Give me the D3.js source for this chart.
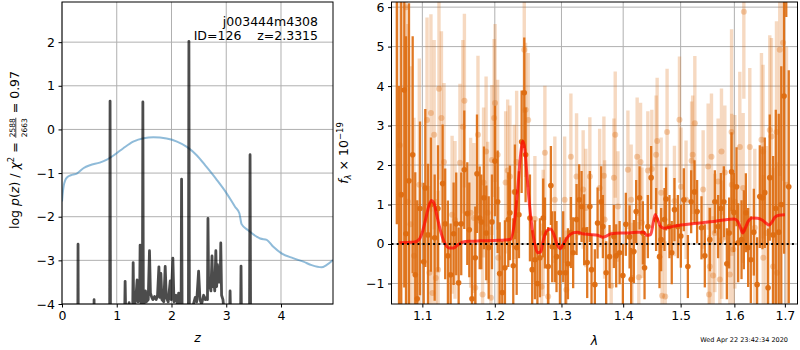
<!DOCTYPE html>
<html>
<head>
<meta charset="utf-8">
<script src="https://cdn.jsdelivr.net/npm/d3@7"></script>
<style>
  body { margin: 0; background: #fff; }
  svg { font-family: "DejaVu Sans", sans-serif; }
</style>
</head>
<body>
<svg id="fig" width="800" height="350"></svg>
<script>
// ---------------- data ----------------
// redshift probability: [z, log p(z)]
const pzCurve = [
  [0.00,-6],[0.285,-6],[0.293,-2.63],[0.301,-6],[0.578,-6],[0.586,-3.9],[0.594,-6],
  [0.868,-6],[0.878,0.65],[0.888,-6],[1.12,-6],[1.145,-4.2],[1.153,-3.48],[1.162,-4.1],
  [1.20,-4.3],[1.226,-3.97],[1.25,-4.2],[1.292,-4.1],[1.300,-3.05],[1.308,-3.9],[1.33,-4.0],
  [1.350,-3.85],[1.372,-3.45],[1.39,-3.95],[1.418,-3.8],[1.427,-2.65],[1.436,-3.9],
  [1.468,-4.2],[1.477,0.63],[1.486,-4.1],[1.51,-3.9],[1.525,-3.7],[1.54,-3.95],
  [1.575,-3.9],[1.598,-2.78],[1.615,-3.75],[1.64,-3.85],[1.66,-3.9],[1.69,-3.83],[1.72,-3.9],
  [1.745,-3.8],[1.77,-3.15],[1.785,-3.85],[1.806,-3.3],[1.825,-3.9],[1.86,-3.95],[1.885,-3.14],
  [1.905,-3.85],[1.94,-3.95],[1.977,-3.47],[1.995,-3.9],[2.025,-2.95],[2.045,-3.95],
  [2.07,-3.9],[2.086,-3.8],[2.11,-4.05],[2.13,-3.75],[2.155,-4.1],[2.175,-4.2],[2.184,-1.14],
  [2.194,-4.2],[2.26,-4.3],[2.309,-4.3],[2.318,2.02],[2.327,-4.2],[2.38,-4.1],[2.434,-3.85],
  [2.46,-3.95],[2.495,-3.25],[2.52,-3.9],[2.55,-4.0],[2.587,-3.8],[2.62,-3.9],[2.645,-3.85],
  [2.657,-3.9],[2.666,-2.04],[2.678,-3.6],[2.696,-3.55],[2.72,-3.7],[2.74,-2.9],[2.755,-3.6],
  [2.77,-3.4],[2.79,-3.7],[2.81,-2.78],[2.825,-3.6],[2.84,-3.1],[2.86,-3.5],[2.88,-3.15],
  [2.89,-3.5],[2.90,-2.6],[2.915,-3.8],[2.94,-3.9],[2.97,-4.3],[3.06,-4.3],[3.07,-3.7],
  [3.08,-4.3],[3.262,-4.3],[3.27,-3.13],[3.278,-4.3],[3.425,-4.3],[3.435,-0.58],[3.445,-4.3],
  [3.5,-6],[4.95,-6]
];
// scaled chi-square curve: [z, value]
const chiCurve = [
  [0.00,-1.65],[0.01,-1.50],[0.03,-1.30],[0.06,-1.16],[0.10,-1.09],[0.16,-1.05],[0.27,-1.01],
  [0.39,-0.89],[0.51,-0.82],[0.69,-0.76],[0.82,-0.69],[0.97,-0.57],[1.12,-0.43],[1.30,-0.28],
  [1.49,-0.20],[1.67,-0.18],[1.91,-0.21],[2.10,-0.28],[2.28,-0.40],[2.46,-0.59],[2.64,-0.86],
  [2.83,-1.16],[3.01,-1.47],[3.16,-1.77],[3.24,-1.92],[3.28,-2.17],[3.40,-2.31],[3.56,-2.46],
  [3.62,-2.50],[3.74,-2.53],[3.86,-2.69],[4.01,-2.84],[4.22,-2.95],[4.41,-3.03],[4.56,-3.11],
  [4.74,-3.16],[4.83,-3.11],[4.95,-2.99]
];
// spectrum, second grism: [wavelength, flux, error]
const specFaint = [
  [1.0708,2.5,5.5],[1.0786,6.0,5.0],[1.0810,1.07,4.5],[1.0844,0.5,4.0],[1.0890,-0.3,3.5],
  [1.0960,1.5,3.2],[1.1062,3.14,2.6],[1.1094,-0.73,2.2],[1.1114,3.32,2.5],[1.1135,-1.24,2.2],
  [1.1157,2.77,2.4],[1.1180,-0.86,2.0],[1.1210,-0.65,2.0],[1.1222,3.93,2.3],[1.1255,3.19,2.2],
  [1.1290,2.08,2.0],[1.1400,0.74,2.0],[1.1440,0.61,2.0],[1.1508,2.06,2.0],[1.1548,2.97,2.2],
  [1.1570,3.63,2.2],[1.1657,0.79,1.9],[1.1703,0.66,1.9],[1.1722,-1.11,1.8],[1.1760,2.77,2.0],
  [1.1825,-1.28,1.8],[1.1839,1.56,1.9],[1.1875,2.34,1.9],[1.1898,0.79,1.8],[1.1944,-1.36,1.8],
  [1.1958,2.13,1.9],[1.1990,3.19,2.0],[1.2004,3.57,2.0],[1.2041,2.26,1.9],[1.2050,-0.35,1.8],
  [1.2157,1.56,1.8],[1.2187,1.86,1.8],[1.2220,1.71,1.8],[1.2284,1.32,1.7],[1.2319,2.08,1.8],
  [1.2432,4.92,1.6],[1.2452,3.40,1.7],[1.2491,3.14,1.7],[1.2592,0.63,1.6],[1.2693,-1.08,1.6],
  [1.2718,0.28,1.6],[1.2744,2.31,1.7],[1.2794,-1.33,1.6],[1.2897,1.12,1.6],[1.3050,1.12,1.6],
  [1.3076,-1.16,1.5],[1.3148,2.21,1.6],[1.3238,1.71,1.6],[1.3343,1.38,1.5],[1.3386,0.91,1.5],
  [1.3451,1.71,1.5],[1.3610,1.42,1.5],[1.3680,1.73,1.5],[1.3691,0.62,1.5],[1.3800,-1.06,1.4],
  [1.3845,1.68,1.5],[1.3867,2.77,1.6],[1.3912,0.95,1.4],[1.4080,1.88,1.5],[1.4135,1.12,1.4],
  [1.4150,-0.86,1.4],[1.4237,2.21,1.5],[1.4265,-0.84,1.4],[1.4295,2.08,1.5],[1.4320,0.54,1.4],
  [1.4421,1.86,1.5],[1.4490,1.90,1.5],[1.4565,2.26,1.5],[1.4583,2.61,1.6],[1.4653,1.30,1.4],
  [1.4670,-1.31,1.4],[1.4725,-1.33,1.4],[1.4758,2.84,1.6],[1.4889,1.09,1.4],[1.4979,3.15,1.6],
  [1.5007,1.45,1.5],[1.5098,1.12,1.5],[1.5199,2.11,1.5],[1.5218,2.26,1.5],[1.5258,3.06,1.7],
  [1.5411,1.38,1.5],[1.5504,1.96,1.6],[1.5520,-1.28,1.5],[1.5535,-0.57,1.5],[1.5566,2.21,1.6],
  [1.5597,-0.80,1.5],[1.5629,0.28,1.5],[1.5691,1.58,1.6],[1.5723,-0.90,1.5],[1.5754,2.34,1.6],
  [1.5760,0.11,1.5],[1.5818,1.81,1.7],[1.5913,-0.77,1.7],[1.5946,2.84,2.6],[1.5950,1.50,1.8],
  [1.5977,-0.14,1.8],[1.6009,1.07,2.2],[1.6105,2.46,1.9],[1.6170,1.42,1.9],[1.6183,5.88,2.2],
  [1.6299,2.46,2.0],[1.6397,0.41,2.0],[1.6529,2.64,2.2],[1.6561,2.34,2.2],[1.6565,-0.35,2.1],
  [1.6629,0.28,2.2],[1.6695,2.89,2.4],[1.6729,2.72,2.5],[1.6762,-0.57,2.5],[1.6830,2.84,2.8],
  [1.6842,-0.73,2.8],[1.6896,4.92,3.2],[1.6964,5.10,3.5],[1.7033,1.50,3.5]
];
// spectrum, first grism: [wavelength, flux, error]
const specMain = [
  [1.0668,7.5,7.0],[1.0696,-2.5,6.5],[1.0725,1.25,5.5],[1.0764,3.90,5.0],[1.0786,0.26,5.0],
  [1.0825,1.60,4.5],[1.0873,2.26,3.0],[1.0907,-0.78,2.6],[1.0933,-1.39,2.5],[1.0969,0.90,2.2],
  [1.1018,-0.45,2.0],[1.1039,1.42,2.0],[1.1075,0.23,1.8],[1.1114,1.00,1.7],[1.1164,0.16,1.6],
  [1.1208,0.90,1.6],[1.1271,1.53,1.5],[1.1306,0.51,1.4],[1.1343,-0.30,1.4],[1.1380,-0.78,1.3],
  [1.1421,0.26,1.3],[1.1457,0.51,1.3],[1.1490,-0.98,1.4],[1.1526,0.51,1.3],[1.1568,1.88,1.5],
  [1.1610,0.77,1.3],[1.1638,0.36,1.2],[1.1675,-1.39,1.4],[1.1722,-0.35,1.3],[1.1746,1.78,1.5],
  [1.1784,0.66,1.3],[1.1807,0.56,1.2],[1.1845,1.17,1.3],[1.1878,0.28,1.2],[1.1912,-0.09,1.3],
  [1.1959,0.56,1.2],[1.2002,2.10,1.4],[1.2041,1.07,1.3],[1.2070,-0.75,1.3],[1.2108,-1.23,1.3],
  [1.2147,-0.60,1.2],[1.2196,0.62,1.2],[1.2220,0.79,1.2],[1.2269,-0.55,1.2],[1.2294,1.32,1.2],
  [1.2319,-0.09,1.2],[1.2353,0.74,1.1],[1.2393,2.59,1.3],[1.2432,3.83,1.4],[1.2452,2.26,1.2],
  [1.2517,0.66,1.1],[1.2551,-0.65,1.0],[1.2592,-0.40,1.0],[1.2630,-1.00,1.0],[1.2668,-0.35,1.0],
  [1.2718,0.66,1.0],[1.2744,0.28,0.9],[1.2794,-0.57,1.0],[1.2836,1.48,1.0],[1.2856,-0.07,0.9],
  [1.2897,-0.07,0.9],[1.2923,-0.32,0.9],[1.2976,-0.73,0.9],[1.3027,-0.07,0.9],[1.3065,-0.73,0.9],
  [1.3101,-0.50,0.9],[1.3148,0.29,0.9],[1.3184,-0.22,0.9],[1.3238,0.62,0.9],[1.3280,1.12,0.9],
  [1.3318,0.95,0.9],[1.3359,0.36,0.9],[1.3408,-0.47,0.9],[1.3451,0.95,0.9],[1.3478,-0.65,0.9],
  [1.3532,-1.03,0.9],[1.3576,0.53,0.9],[1.3635,1.07,0.9],[1.3663,0.44,0.8],[1.3717,-0.73,0.8],
  [1.3773,-0.32,0.8],[1.3845,0.19,0.8],[1.3883,-0.30,0.8],[1.3940,-0.22,0.8],[1.3995,-0.80,0.8],
  [1.4045,0.50,0.8],[1.4108,0.18,0.8],[1.4135,-0.90,0.8],[1.4181,-0.19,0.8],[1.4220,0.82,0.8],
  [1.4278,1.17,0.8],[1.4335,0.28,0.8],[1.4364,-0.60,0.8],[1.4421,0.44,0.8],[1.4478,1.68,0.8],
  [1.4565,0.62,0.8],[1.4624,-0.32,0.8],[1.4653,0.11,0.8],[1.4712,0.62,0.8],[1.4740,1.14,0.8],
  [1.4800,0.44,0.8],[1.4841,-0.22,0.8],[1.4889,0.87,0.8],[1.4950,0.44,0.8],[1.5004,0.20,0.8],
  [1.5058,1.12,0.8],[1.5131,-0.57,0.8],[1.5191,1.07,0.8],[1.5252,1.32,0.8],[1.5300,0.82,0.8],
  [1.5381,0.41,0.8],[1.5442,-0.30,0.8],[1.5535,0.11,0.8],[1.5629,1.07,0.8],[1.5691,0.44,0.8],
  [1.5742,0.90,0.9],[1.5799,1.07,0.9],[1.5856,-0.50,0.9],[1.5900,0.28,0.9],[1.5946,1.83,1.0],
  [1.5990,0.80,1.0],[1.6042,1.45,1.0],[1.6073,0.03,1.0],[1.6138,0.11,1.0],[1.6183,0.36,1.0],
  [1.6222,0.79,1.0],[1.6267,-0.09,1.0],[1.6319,-0.40,1.1],[1.6378,0.30,1.1],[1.6443,-1.03,1.2],
  [1.6496,1.20,1.3],[1.6549,1.17,1.3],[1.6595,1.30,1.4],[1.6661,-1.11,1.5],[1.6695,1.68,1.6],
  [1.6762,0.23,2.0],[1.6816,0.90,2.5],[1.6876,0.30,3.0],[1.6927,1.00,3.5],[1.6984,3.75,4.0],
  [1.7029,8.00,2.25],[1.7080,1.45,2.95]
];
// best-fit template: [wavelength, flux]
const modelSpec = [
  [1.070,0.03],[1.080,0.04],[1.090,0.05],[1.096,0.12],[1.100,0.30],[1.104,0.60],[1.108,0.92],
  [1.112,1.10],[1.115,1.05],[1.119,0.75],[1.124,0.35],[1.130,0.02],[1.136,-0.10],[1.142,-0.10],
  [1.148,-0.02],[1.155,0.05],[1.165,0.07],[1.180,0.08],[1.200,0.09],[1.215,0.10],[1.223,0.12],
  [1.229,0.60],[1.234,1.50],[1.238,2.30],[1.241,2.60],[1.244,2.40],[1.247,1.80],[1.251,1.00],
  [1.255,0.40],[1.259,0.00],[1.263,-0.22],[1.268,-0.20],[1.272,0.10],[1.277,0.33],[1.283,0.38],
  [1.288,0.25],[1.293,0.00],[1.298,-0.12],[1.303,0.00],[1.310,0.18],[1.318,0.28],[1.325,0.30],
  [1.333,0.26],[1.345,0.24],[1.358,0.22],[1.366,0.17],[1.372,0.20],[1.380,0.26],[1.395,0.28],
  [1.410,0.28],[1.425,0.30],[1.435,0.30],[1.440,0.22],[1.447,0.24],[1.451,0.50],[1.455,0.75],
  [1.459,0.62],[1.464,0.45],[1.470,0.40],[1.485,0.44],[1.500,0.48],[1.520,0.51],[1.540,0.54],
  [1.560,0.57],[1.580,0.61],[1.600,0.63],[1.606,0.58],[1.612,0.40],[1.616,0.28],[1.621,0.40],
  [1.627,0.58],[1.635,0.66],[1.645,0.65],[1.655,0.60],[1.663,0.52],[1.668,0.48],[1.674,0.56],
  [1.680,0.68],[1.688,0.73],[1.700,0.74]
];
const zTicks = [0, 1, 2, 3, 4];
const pzTicks = [-4, -3, -2, -1, 0, 1, 2];
const waveTicks = [1.1, 1.2, 1.3, 1.4, 1.5, 1.6, 1.7];
const fluxTicks = [-1, 0, 1, 2, 3, 4, 5, 6];
const objName = "j003444m4308";
const objInfo = "ID=126    z=2.3315";
const stamp = "Wed Apr 22 23:42:34 2020";

// ---------------- layout ----------------
const svg = d3.select("#fig");
const FS = 12.5;
const gridColor = "#b0b0b0";
const minus = s => String(s).replace("-", "\u2212");

const L = {x0: 62, x1: 333, y0: 2, y1: 304};
const R = {x0: 391.5, x1: 797.5, y0: 2, y1: 304};

const xz = d3.scaleLinear().domain([0, 4.95]).range([L.x0, L.x1]);
const yp = d3.scaleLinear().domain([-4, 2.92]).range([L.y1, L.y0]);
const xw = d3.scaleLog().domain([1.06, 1.726]).range([R.x0, R.x1]);
const yf = d3.scaleLinear().domain([-1.52, 6.13]).range([R.y1, R.y0]);

const defs = svg.append("defs");
function clip(id, b) {
  defs.append("clipPath").attr("id", id).append("rect")
    .attr("x", b.x0).attr("y", b.y0).attr("width", b.x1 - b.x0).attr("height", b.y1 - b.y0);
}
clip("clipL", L); clip("clipR", R);

function grid(b, xs, xt, ys, yt) {
  const g = svg.append("g").attr("stroke", gridColor).attr("stroke-width", 1);
  xt.forEach(t => g.append("line").attr("x1", xs(t)).attr("x2", xs(t)).attr("y1", b.y0).attr("y2", b.y1));
  yt.forEach(t => g.append("line").attr("y1", ys(t)).attr("y2", ys(t)).attr("x1", b.x0).attr("x2", b.x1));
}
grid(L, xz, zTicks, yp, pzTicks);
grid(R, xw, waveTicks, yf, fluxTicks);

// ---------------- left panel ----------------
const gl = svg.append("g").attr("clip-path", "url(#clipL)");
gl.append("path").datum(chiCurve)
  .attr("d", d3.line().x(d => xz(d[0])).y(d => yp(d[1])).curve(d3.curveMonotoneX))
  .attr("fill", "none").attr("stroke", "#1f77b4").attr("stroke-opacity", 0.5).attr("stroke-width", 2);
gl.append("path").datum(pzCurve).attr("d", d3.line().x(d => xz(d[0])).y(d => yp(d[1])))
  .attr("fill", "none").attr("stroke", "#000").attr("stroke-opacity", 0.7)
  .attr("stroke-width", 2.8).attr("stroke-linejoin", "round");

svg.append("text").attr("x", 318).attr("y", 26).attr("text-anchor", "end")
  .attr("font-size", FS).text(objName);
svg.append("text").attr("x", 318).attr("y", 40).attr("text-anchor", "end")
  .attr("font-size", FS).style("white-space", "pre").text(objInfo);

// ---------------- right panel ----------------
const gr = svg.append("g").attr("clip-path", "url(#clipR)");
const orange = "#dd6c10";
function errorbars(data, width, barOp, dotOp, r) {
  const g = gr.append("g");
  g.selectAll("line").data(data).join("line")
    .attr("x1", d => xw(d[0])).attr("x2", d => xw(d[0]))
    .attr("y1", d => yf(d[1] - d[2])).attr("y2", d => yf(d[1] + d[2]))
    .attr("stroke", orange).attr("stroke-opacity", barOp).attr("stroke-width", width);
  g.selectAll("circle").data(data).join("circle")
    .attr("cx", d => xw(d[0])).attr("cy", d => yf(d[1])).attr("r", r)
    .attr("fill", orange).attr("fill-opacity", dotOp);
}
errorbars(specFaint, 3.4, 0.26, 0.32, 3);
errorbars(specMain, 2.3, 0.92, 0.95, 2.8);

gr.append("path").datum(modelSpec)
  .attr("d", d3.line().x(d => xw(d[0])).y(d => yf(d[1])).curve(d3.curveMonotoneX))
  .attr("fill", "none").attr("stroke", "#ff0000").attr("stroke-opacity", 0.7)
  .attr("stroke-width", 3).attr("stroke-linejoin", "round");
gr.append("line").attr("x1", R.x0).attr("x2", R.x1).attr("y1", yf(0)).attr("y2", yf(0))
  .attr("stroke", "#000").attr("stroke-width", 2).attr("stroke-dasharray", "2,3.2");

// ---------------- axes ----------------
function frame(b) {
  svg.append("rect").attr("x", b.x0).attr("y", b.y0).attr("width", b.x1 - b.x0)
    .attr("height", b.y1 - b.y0).attr("fill", "none").attr("stroke", "#000").attr("stroke-width", 1);
}
function axes(b, xs, xt, xfmt, ys, yt) {
  const ax = d3.axisBottom(xs).tickValues(xt).tickSize(3.5).tickPadding(3.5).tickFormat(xfmt);
  const ay = d3.axisLeft(ys).tickValues(yt).tickSize(3.5).tickPadding(3.5).tickFormat(d => minus(d));
  [svg.append("g").attr("transform", `translate(0,${b.y1})`).call(ax),
   svg.append("g").attr("transform", `translate(${b.x0},0)`).call(ay)].forEach(g => {
    g.select(".domain").remove();
    g.selectAll("line").attr("stroke", "#000").attr("stroke-width", 1);
    g.selectAll("text").attr("font-size", FS).attr("font-family", "DejaVu Sans").attr("fill", "#000");
  });
  frame(b);
}
axes(L, xz, zTicks, d => d, yp, pzTicks);
axes(R, xw, waveTicks, d3.format(".1f"), yf, fluxTicks);

// axis labels
svg.append("text").attr("x", (L.x0 + L.x1) / 2).attr("y", 342).attr("text-anchor", "middle")
  .attr("font-size", FS).attr("font-style", "italic").text("z");
svg.append("text").attr("x", (R.x0 + R.x1) / 2).attr("y", 345).attr("text-anchor", "middle")
  .attr("font-size", FS).attr("font-style", "italic").text("λ");
svg.append("text").attr("x", 788).attr("y", 342).attr("text-anchor", "end")
  .attr("font-size", 6.5).text(stamp);

// rotated label built from pieces laid out along the baseline
function rotLabel(cx, cy, pieces) {
  const g = svg.append("g");
  let x = 0;
  pieces.forEach(p => {
    if (p.frac) {
      const fs = p.size;
      const t1 = g.append("text").attr("font-size", fs).attr("y", -4.2).text(p.frac[0]);
      const t2 = g.append("text").attr("font-size", fs).attr("y", 2.2 + fs * 0.72).text(p.frac[1]);
      const w = Math.max(t1.node().getComputedTextLength(), t2.node().getComputedTextLength());
      t1.attr("x", x + 1); t2.attr("x", x + 1);
      g.append("line").attr("x1", x + 0.5).attr("x2", x + w + 1.5).attr("y1", -3.2).attr("y2", -3.2)
        .attr("stroke", "#000").attr("stroke-width", 0.7);
      x += w + 2;
    } else {
      const t = g.append("text").attr("x", x).attr("y", p.dy || 0)
        .attr("font-size", p.size || FS).style("white-space", "pre").text(p.t);
      if (p.it) t.attr("font-style", "italic");
      x += t.node().getComputedTextLength() + (p.gap || 0);
    }
  });
  g.attr("transform", `translate(${cx},${cy}) rotate(-90) translate(${-x / 2},0)`);
}
rotLabel(19, 150, [
  {t: "log "}, {t: "p", it: true}, {t: "("}, {t: "z", it: true}, {t: ") / "},
  {t: "χ", it: true}, {t: "2", size: 8.5, dy: -5}, {t: " = "},
  {frac: ["2588", "2663"], size: 7.5}, {t: " = 0.97"}
]);
rotLabel(348, 153, [
  {t: "f", it: true}, {t: "λ", it: true, size: 8.5, dy: 3}, {t: " × 10"},
  {t: "−19", size: 8.5, dy: -5}
]);
</script>
</body>
</html>
